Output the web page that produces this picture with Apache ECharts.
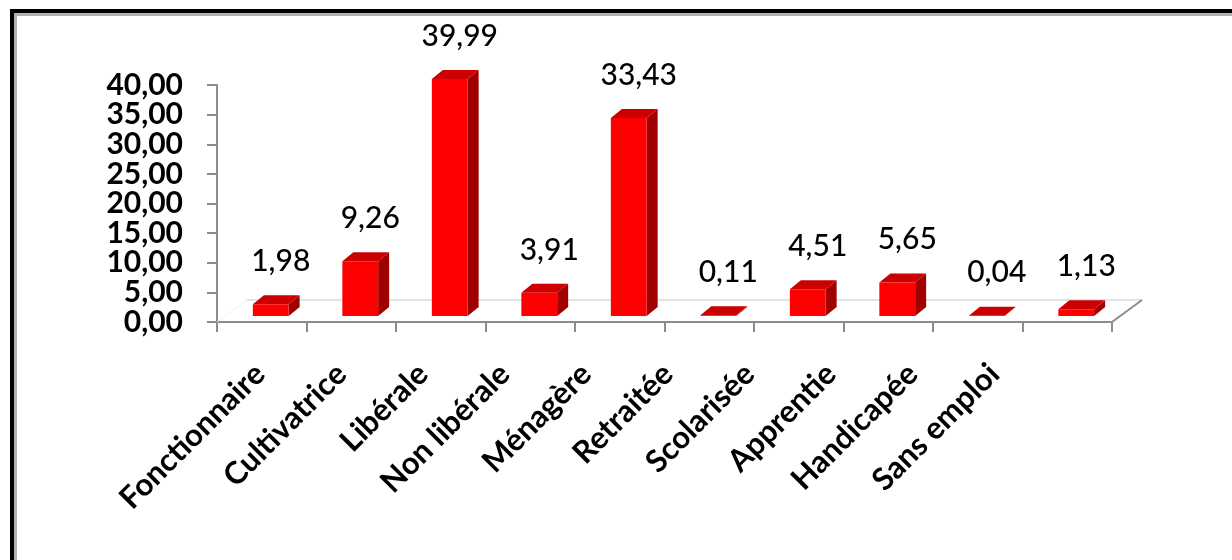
<!DOCTYPE html>
<html>
<head>
<meta charset="utf-8">
<script src="https://cdn.jsdelivr.net/npm/echarts@6/dist/echarts.min.js"></script>
<style>
  html, body { margin: 0; padding: 0; background: #ffffff; }
  #chart { width: 1232px; height: 560px; }
</style>
</head>
<body>
<div id="chart"></div>
<script>
// Occupation categories and their shares (%)
const categories = ['Fonctionnaire', 'Cultivatrice', 'Libérale', 'Non libérale', 'Ménagère',
                    'Retraitée', 'Scolarisée', 'Apprentie', 'Handicapée', 'Sans emploi'];
const values = [1.98, 9.26, 39.99, 3.91, 33.43, 0.11, 4.51, 5.65, 0.04, 1.13];
const yMin = 0;
const yMax = 40;
const yStep = 5;
// tick labels, split in two alternating sets so the tight stack is never thinned out
const yLabelsEven = [0, 10, 20, 30, 40];
const yLabelsOdd = [5, 15, 25, 35];

const fmt = v => v.toFixed(2).replace('.', ',');

// pseudo-3D geometry (pixels)
const FLOOR_DX = 30, FLOOR_DY = -22;   // depth of the floor
const BAR_DX = 9, BAR_DY = -6;         // where the bar front sits inside the floor
const DEPTH_DX = 11, DEPTH_DY = -9;    // bar thickness
const BAR_W = 0.40;                    // front face width, share of category width

const FRONT = '#ff0000', TOP = '#cc0000', SIDE = '#a00000';

function renderFloor(params, api) {
  const cs = params.coordSys;
  const x0 = cs.x, x1 = cs.x + cs.width, y0 = cs.y + cs.height;
  return {
    type: 'group',
    children: [
      { type: 'line', shape: { x1: x0 + FLOOR_DX, y1: y0 + FLOOR_DY, x2: x1 + FLOOR_DX, y2: y0 + FLOOR_DY },
        style: { stroke: '#e3e3e3', lineWidth: 2 } },
      { type: 'line', shape: { x1: x0, y1: y0, x2: x0 + FLOOR_DX, y2: y0 + FLOOR_DY },
        style: { stroke: '#f0f0f0', lineWidth: 1 } },
      { type: 'line', shape: { x1: x1, y1: y0, x2: x1 + FLOOR_DX, y2: y0 + FLOOR_DY },
        style: { stroke: '#8c8c8c', lineWidth: 2 } }
    ]
  };
}

function renderBar(params, api) {
  const idx = api.value(0);
  const v = api.value(1);
  const base = api.coord([idx, 0]);
  const top = api.coord([idx, v]);
  const cw = api.size([1, 0])[0];
  const w = cw * BAR_W;
  const cx = base[0] + BAR_DX;
  const L = cx - w / 2, R = cx + w / 2;
  const yb = base[1] + BAR_DY, yt = top[1] + BAR_DY;
  return {
    type: 'group',
    children: [
      { type: 'polygon', shape: { points: [[R, yt], [R + DEPTH_DX, yt + DEPTH_DY], [R + DEPTH_DX, yb + DEPTH_DY], [R, yb]] },
        style: { fill: SIDE } },
      { type: 'polygon', shape: { points: [[L, yt], [R, yt], [R + DEPTH_DX, yt + DEPTH_DY], [L + DEPTH_DX, yt + DEPTH_DY]] },
        style: { fill: TOP } },
      { type: 'rect', shape: { x: L, y: yt, width: w, height: Math.max(yb - yt, 0) },
        style: { fill: FRONT } },
      { type: 'text', x: cx + 10, y: yt - 43,
        style: { text: fmt(v), fill: '#000', font: '500 30px Lato', align: 'center', verticalAlign: 'middle' } }
    ]
  };
}

const yLabelStyle = { margin: 34, color: '#000', fontFamily: 'Lato', fontWeight: 'bold', fontSize: 30,
                      formatter: v => fmt(v) };

const chart = echarts.init(document.getElementById('chart'), null, { renderer: 'canvas' });
chart.setOption({
  backgroundColor: '#ffffff',
  animation: false,
  graphic: [
    { type: 'rect', shape: { x: 15.5, y: 14.5, width: 1400, height: 800 },
      style: { fill: 'none', stroke: '#b0b0b0', lineWidth: 3 }, z: 100 },
    { type: 'rect', shape: { x: 12, y: 11, width: 1400, height: 800 },
      style: { fill: 'none', stroke: '#000000', lineWidth: 4 }, z: 101 }
  ],
  grid: [
    { left: 217, right: 120, top: 85, bottom: 238 },
    { left: 219, right: 197, top: 85, bottom: 238 }
  ],
  xAxis: [
    {
      type: 'category', gridIndex: 0, data: categories,
      axisLine: { lineStyle: { color: '#8c8c8c', width: 2 } },
      axisTick: { show: true, interval: 0, length: 10, lineStyle: { color: '#8c8c8c', width: 2 } },
      axisLabel: { show: false },
      splitLine: { show: false }
    },
    {
      type: 'category', gridIndex: 1, data: categories,
      axisLine: { show: false },
      axisTick: { show: false },
      axisLabel: { rotate: 45, margin: 47, interval: 0, color: '#000',
                   fontFamily: 'Lato', fontWeight: 'bold', fontSize: 31 },
      splitLine: { show: false }
    }
  ],
  yAxis: [
    {
      type: 'value', gridIndex: 0, min: yMin, max: yMax, interval: yStep, position: 'left',
      axisLine: { show: true, lineStyle: { color: '#8c8c8c', width: 2 } },
      axisTick: { show: true, length: 10, lineStyle: { color: '#8c8c8c', width: 2 } },
      axisLabel: Object.assign({ customValues: yLabelsEven }, yLabelStyle),
      splitLine: { show: false }
    },
    {
      type: 'value', gridIndex: 0, min: yMin, max: yMax, interval: yStep, position: 'left', offset: 0,
      axisLine: { show: false },
      axisTick: { show: false },
      axisLabel: Object.assign({ customValues: yLabelsOdd }, yLabelStyle),
      splitLine: { show: false }
    },
    { type: 'value', gridIndex: 1, min: yMin, max: yMax, show: false }
  ],
  series: [
    { type: 'custom', xAxisIndex: 0, yAxisIndex: 0, silent: true, clip: false, z: 1,
      renderItem: renderFloor, data: [[0, 0]] },
    { type: 'custom', xAxisIndex: 0, yAxisIndex: 0, silent: true, clip: false, z: 2,
      renderItem: renderBar, data: values.map((v, i) => [i, v]) }
  ]
});
</script>
</body>
</html>
